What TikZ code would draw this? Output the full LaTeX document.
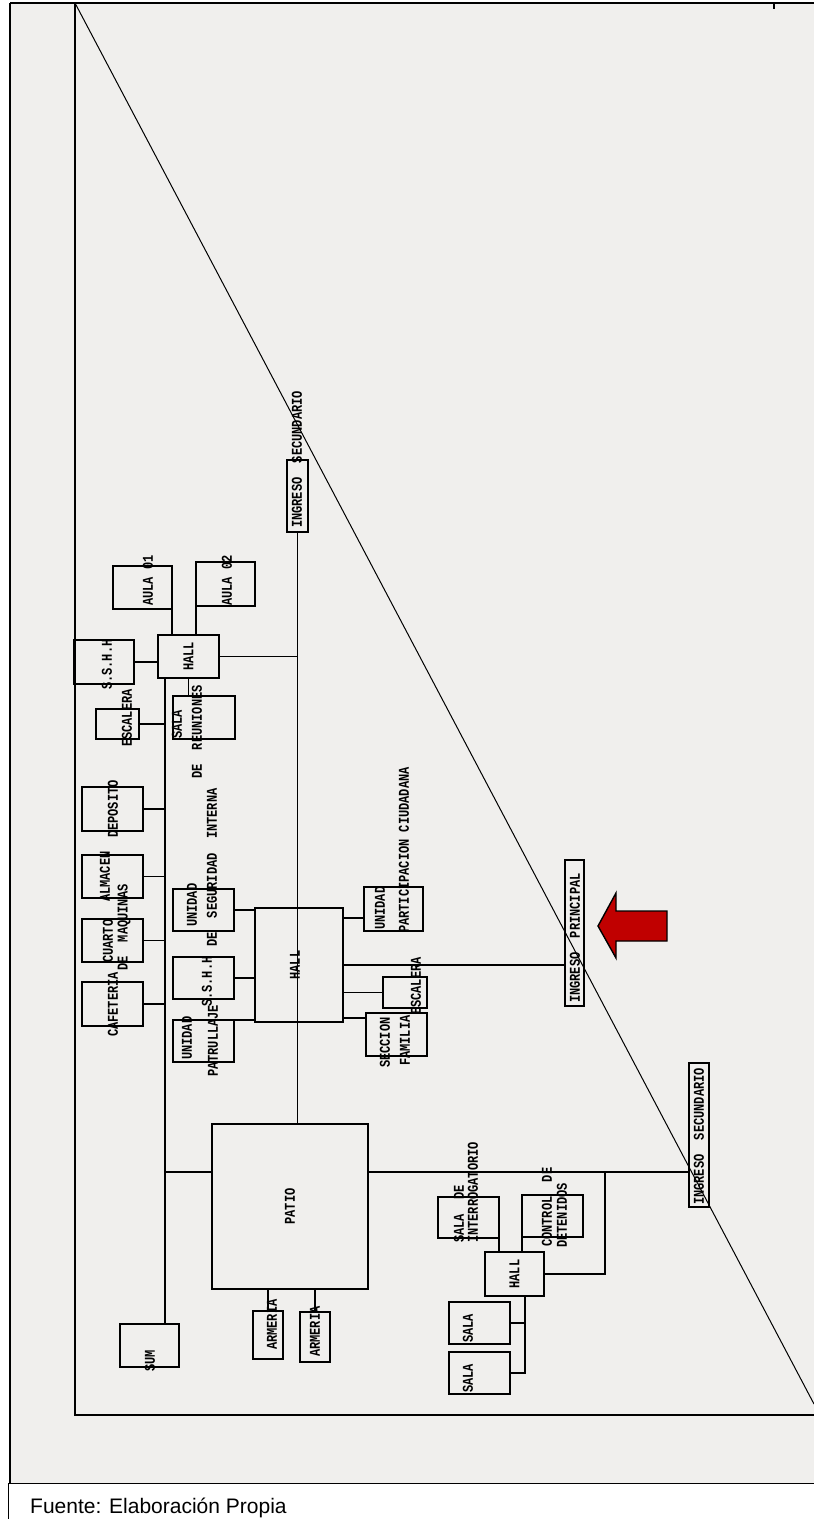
\documentclass[tikz,border=0pt]{standalone}
\usepackage{fontspec}
\setmainfont{Liberation Sans}
\newfontfamily\cadfont[FakeStretch=0.8]{Liberation Mono}
\usepackage{tikz}
\usetikzlibrary{calc}
\definecolor{plangray}{HTML}{F0EFED}
\definecolor{arrowred}{HTML}{C00000}

\begin{document}
\begin{tikzpicture}[x=1pt, y=-1pt,
    room/.style={draw, line width=1.4pt, anchor=north west, inner sep=0pt, outer sep=0pt},
    tag/.style={font=\cadfont\bfseries\fontsize{15}{15}\selectfont, rotate=90, anchor=west, inner sep=0pt},
    wire/.style={line width=1.4pt}
]
\useasboundingbox (0,0) rectangle (814,1519);

% sheet and frame
\fill[plangray] (10,3) rectangle (814,1483);
\draw[line width=1.8pt] (10,3) -- (814,3);
\draw[line width=1.3pt] (10,3) -- (10,1483);
\draw[line width=0.6pt] (8,1483) -- (814,1483);
\draw[line width=0.6pt] (8,1483) -- (8,1519);
\draw[line width=1.5pt] (774,3) -- (774,9);
\draw[wire] (75,3) -- (75,1415) -- (814,1415);
\draw[line width=1pt] (75,3) -- (814,1404);

% rooms
\node[room, minimum width=21, minimum height=72] (ingA) at (287,460) {};
\node[room, minimum width=59, minimum height=43] (aula1) at (113,566) {};
\node[room, minimum width=59, minimum height=44] (aula2) at (196,562) {};
\node[room, minimum width=61, minimum height=43] (hallA) at (158,635) {};
\node[room, minimum width=60, minimum height=44] (sshhA) at (74,640) {};
\node[room, minimum width=43, minimum height=30] (escA) at (96,709) {};
\node[room, minimum width=62, minimum height=43] (reun) at (173,696) {};
\node[room, minimum width=61, minimum height=44] (depo) at (82,787) {};
\node[room, minimum width=61, minimum height=43] (alma) at (82,855) {};
\node[room, minimum width=61, minimum height=43] (maq) at (82,919) {};
\node[room, minimum width=61, minimum height=44] (cafe) at (82,982) {};
\node[room, minimum width=61, minimum height=42] (useg) at (173,889) {};
\node[room, minimum width=88, minimum height=114] (hallB) at (255,908) {};
\node[room, minimum width=61, minimum height=42] (sshhB) at (173,957) {};
\node[room, minimum width=61, minimum height=42] (upat) at (173,1020) {};
\node[room, minimum width=59, minimum height=44] (upar) at (364,887) {};
\node[room, minimum width=44, minimum height=31] (escB) at (383,977) {};
\node[room, minimum width=61, minimum height=43] (secf) at (366,1013) {};
\node[room, minimum width=19, minimum height=146] (ingP) at (565,860) {};
\node[room, minimum width=156, minimum height=165] (patio) at (212,1124) {};
\node[room, minimum width=59, minimum height=43] (sum) at (120,1324) {};
\node[room, minimum width=30, minimum height=48] (arm1) at (253,1311) {};
\node[room, minimum width=30, minimum height=50] (arm2) at (300,1312) {};
\node[room, minimum width=61, minimum height=41] (sint) at (438,1197) {};
\node[room, minimum width=61, minimum height=42] (cdet) at (522,1195) {};
\node[room, minimum width=59, minimum height=44] (hallC) at (485,1252) {};
\node[room, minimum width=61, minimum height=42] (sala1) at (449,1302) {};
\node[room, minimum width=61, minimum height=42] (sala2) at (449,1352) {};
\node[room, minimum width=20, minimum height=144] (ingS) at (689,1063) {};

% junctions
\coordinate (corr) at (165,678);
\coordinate (patW) at (165,1172);
\coordinate (brk) at (605,1172);
\coordinate (uparJ) at (343,918);
\coordinate (secfJ) at (343,1018);
\coordinate (hcJ) at (525,1296);

% connections
\draw[wire] (ingA.south) -- (ingA.south |- patio.north);
\draw[wire] (hallA.east) -- (hallA.east -| ingA.south);
\draw[wire] (aula1.south east) -- (aula1.south east |- hallA.north);
\draw[wire] (aula2.south west) -- (aula2.south west |- hallA.north);
\draw[wire] (sshhA.east) -- (sshhA.east -| hallA.west);
\draw[wire] (hallA.south) -- (hallA.south |- reun.north);
\draw[wire] (corr) -- (corr |- sum.north);
\foreach \r in {escA,depo,alma,maq,cafe}
    \draw[wire] (\r.east) -- (\r.east -| corr);
\foreach \r in {useg,sshhB}
    \draw[wire] (\r.east) -- (\r.east -| hallB.west);
\draw[wire] (upat.north east) -- (upat.north east -| hallB.west);
\draw[wire] (uparJ) -- (uparJ -| upar.west);
\draw[wire] (hallB.east) -- (hallB.east -| ingP.west);
\draw[wire] (escB.west) -- (escB.west -| hallB.east);
\draw[wire] (secfJ) -- (secfJ -| secf.west);
\draw[wire] (patW) -- (patW -| patio.west);
\draw[wire] (patW -| patio.east) -- (patW -| ingS.west);
\draw[wire] (hallC.east) -| (brk);
\draw[wire] (sint.south east) -- (sint.south east |- hallC.north);
\draw[wire] (cdet.south west) -- (cdet.south west |- hallC.north);
\draw[wire] (hcJ) |- (sala2.east);
\draw[wire] (sala1.east) -- (sala1.east -| hcJ);
\draw[wire] (arm1.north) -- (arm1.north |- patio.south);
\draw[wire] (arm2.north) -- (arm2.north |- patio.south);

% labels
\node[tag] (tIngA) at (297,528) {INGRESO\ \ SECUNDARIO};
\node[tag] (tAula1) at (148,606) {AULA 01};
\node[tag] (tAula2) at (227,606) {AULA 02};
\node[tag, anchor=center] (tHallA) at (hallA) {HALL};
\node[tag] (tSshhA) at (107,690) {S.S.H.H};
\node[tag] (tEscA) at (127,747) {ESCALERA};
\node[tag] (tSala) at (177,739) {SALA};
\node[tag] (tReun) at (197,779) {DE\ \ REUNIONES};
\node[tag] (tDepo) at (113,838) {DEPOSITO};
\node[tag] (tAlma) at (105,902) {ALMACEN};
\node[tag] (tCuarto) at (108,963) {CUARTO};
\node[tag] (tMaq) at (124,971) {DE\ \ MAQUINAS};
\node[tag] (tCafe) at (113,1037) {CAFETERIA};
\node[tag] (tUseg) at (192,927) {UNIDAD};
\node[tag] (tSegInt) at (212,947) {DE\ \ SEGURIDAD\ \ INTERNA};
\node[tag, anchor=center] (tHallB) at ([xshift=-4pt]hallB.center) {HALL};
\node[tag] (tSshhB) at (207,1007) {S.S.H.H};
\node[tag] (tUpat) at (187,1060) {UNIDAD};
\node[tag] (tPatr) at (213,1077) {PATRULLAJE};
\node[tag] (tUpar) at (380,930) {UNIDAD};
\node[tag] (tPart) at (404,933) {PARTICIPACION CIUDADANA};
\node[tag] (tEscB) at (416,1015) {ESCALERA};
\node[tag] (tSecc) at (385,1068) {SECCION};
\node[tag] (tFam) at (405,1066) {FAMILIA};
\node[tag] (tIngP) at (575,1003) {INGRESO\ \ PRINCIPAL};
\node[tag, anchor=center] (tPatio) at (patio) {PATIO};
\node[tag] (tSum) at (150,1372) {SUM};
\node[tag] (tArm1) at (272,1350) {ARMERIA};
\node[tag] (tArm2) at (315,1357) {ARMERIA};
\node[tag] (tSalaDe) at (459,1243) {SALA\ \ DE};
\node[tag] (tInterr) at (473,1243) {INTERROGATORIO};
\node[tag] (tControl) at (547,1247) {CONTROL\ \ DE};
\node[tag] (tDeten) at (562,1248) {DETENIDOS};
\node[tag, anchor=center] (tHallC) at (hallC) {HALL};
\node[tag] (tSala1) at (468,1343) {SALA};
\node[tag] (tSala2) at (468,1393) {SALA};
\node[tag] (tIngS) at (699,1205) {INGRESO\ \ SECUNDARIO};

% entrance arrow
\filldraw[fill=arrowred, line width=1.4pt, line join=miter] (598,926) -- (616,893) -- (616,911) -- (667,911) -- (667,941) -- (616,941) -- (616,958) -- cycle;

% source
\node[font=\fontsize{21}{21}\selectfont, anchor=base west, inner sep=0pt] (fuente) at (30,1513) {Fuente: Elaboración Propia};
\end{tikzpicture}
\end{document}
